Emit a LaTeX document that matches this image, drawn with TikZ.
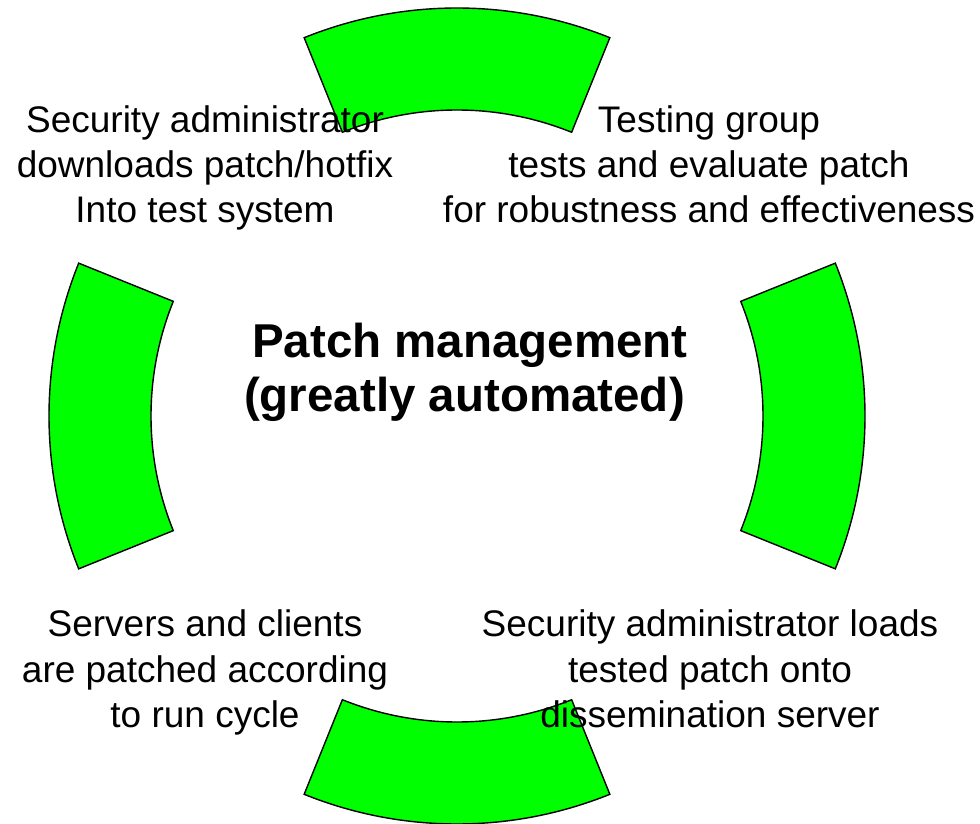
\documentclass[tikz,border=0pt]{standalone}
\usepackage{fontspec}
\setmainfont{Liberation Sans}
\begin{document}
\begin{tikzpicture}[x=1pt,y=1pt,
  sector/.style={draw=black, line width=1.4pt, fill=ringgreen, line join=miter},
  steplabel/.style={align=center, inner sep=0pt, anchor=base,
    font=\fontsize{37}{45.2}\selectfont},
  titlelabel/.style={align=center, inner sep=0pt, anchor=base,
    font=\fontsize{47.5}{53.5}\selectfont\bfseries}]
\definecolor{ringgreen}{RGB}{0,255,0}
\useasboundingbox (0,0) rectangle (980,823);
\fill[white] (0,0) rectangle (980,823);

% four ring segments around the cycle centre
\coordinate (C) at (457,407);
\begin{scope}[shift={(C)}]
  \foreach \a in {90,0,270,180}{
    \draw[sector] (\a-22:306) -- (\a-22:408)
      arc[start angle=\a-22, end angle=\a+22, radius=408]
      -- (\a+22:306)
      arc[start angle=\a+22, end angle=\a-22, radius=306] -- cycle;
  }
\end{scope}

% centre title (anchored at the baseline of its last line)
\node[titlelabel] (title) at (464.5,411.5)
  {\hspace{11pt}Patch management\\(greatly automated)\hspace{11pt}};

% the four steps
\node[steplabel] (download) at (205,600.3)
  {Security administrator\\downloads patch/hotfix\\Into test system};
\node[steplabel] (testing) at (709,600.3)
  {Testing group\\tests and evaluate patch\\for robustness and effectiveness};
\node[steplabel] (load) at (710,95.7)
  {Security administrator loads\\tested patch onto\\dissemination server};
\node[steplabel] (patched) at (205,95.7)
  {Servers and clients\\are patched according\\to run cycle};
\end{tikzpicture}
\end{document}
